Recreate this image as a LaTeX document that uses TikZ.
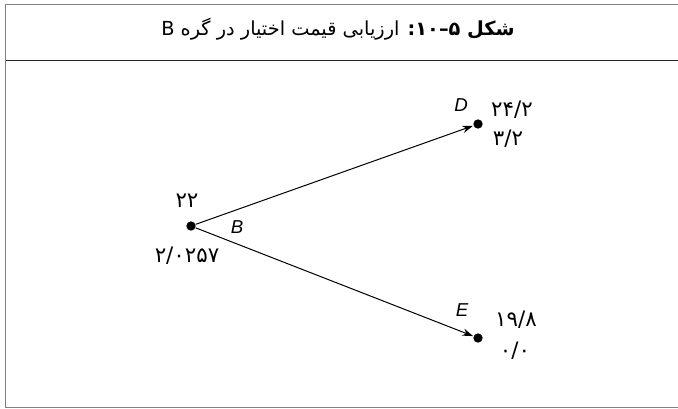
\documentclass[tikz,border=0pt]{standalone}
\usepackage{fontspec}
\setmainfont{DejaVu Sans}
\newfontfamily\fa[Script=Arabic]{DejaVu Sans}
\newfontfamily\latsf{Liberation Sans}
\TeXXeTstate=1
\usetikzlibrary{arrows.meta}
\begin{document}
\begin{tikzpicture}[x=0.75pt,y=0.75pt,
  frame/.style={draw=black!50,line width=0.75pt},
  sep/.style={draw=black!85,line width=0.9pt},
  dot/.style={circle,fill=black,inner sep=0pt,minimum size=7pt},
  val/.style={font=\fa\fontsize{16}{18}\selectfont,inner sep=0pt},
  lab/.style={font=\latsf\itshape\fontsize{14}{16}\selectfont,inner sep=0pt},
  ttl/.style={font=\fa\fontsize{14.5}{17}\selectfont,inner sep=0pt,anchor=base},
  edge/.style={draw=black,line width=0.75pt,-{Stealth[length=8pt,width=5.5pt]},shorten >=0.3pt}]
\useasboundingbox (0,0) rectangle (678,408);
\draw[frame] (678,403) -- (5.5,403) -- (5.5,1) -- (678,1);
\draw[sep] (5.5,347.5) -- (678,347.5);
\node[ttl] (title) at (338,372) {\beginR{\bfseries شکل ۵–۱۰:} ارزیابی قیمت اختیار در گره B\endR};
% tree
\node[dot] (b) at (191,182) {};
\node[dot] (d) at (478,284) {};
\node[dot] (e) at (478,70) {};
\draw[edge] (b) -- (d);
\draw[edge] (b) -- (e);
\node[val] (b1) at (187,207) {۲۲};
\node[val] (b2) at (187,152) {۲/۰۲۵۷};
\node[lab] (bl) at (237,181) {B};
\node[lab] (dl) at (461,303) {D};
\node[val] (d1) at (512,298) {۲۴/۲};
\node[val] (d2) at (508,269) {۳/۲};
\node[lab] (el) at (462,98) {E};
\node[val] (e1) at (516,88) {۱۹/۸};
\node[val] (e2) at (515,57) {۰/۰};
\end{tikzpicture}
\end{document}
